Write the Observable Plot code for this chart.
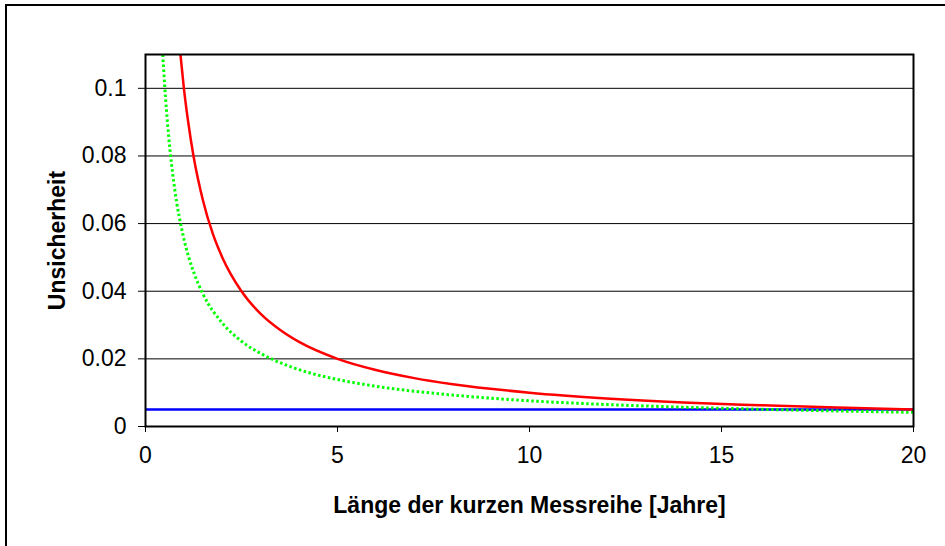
<!DOCTYPE html>
<html>
<head>
<meta charset="utf-8">
<script src="https://cdn.jsdelivr.net/npm/d3@7"></script>
<script src="https://cdn.jsdelivr.net/npm/@observablehq/plot@0.6"></script>
<style>
  html, body { margin: 0; padding: 0; background: #fff; }
  #chart { width: 945px; height: 546px; overflow: hidden; }
</style>
</head>
<body>
<div id="chart"></div>
<script>
// Values
const redX   = [0.91, 1, 1.1, 1.25, 1.5, 1.75, 2, 2.5, 3, 3.5, 4, 5, 6, 7, 8, 10, 12, 14, 16, 18, 20];
const redY   = [0.11, 0.1, 0.091, 0.08, 0.0667, 0.0571, 0.05, 0.04, 0.0333, 0.0286, 0.025, 0.02, 0.0167, 0.0143, 0.0125, 0.01, 0.0083, 0.0071, 0.0063, 0.0056, 0.005];
const greenX = [0.45, 0.5, 0.6, 0.75, 1, 1.25, 1.5, 2, 2.5, 3, 3.26, 4, 5, 6, 8, 10, 12, 14, 16, 18, 20];
const greenY = [0.11, 0.1008, 0.0862, 0.0711, 0.0555, 0.0458, 0.0391, 0.0306, 0.0252, 0.0216, 0.0201, 0.0168, 0.0139, 0.0119, 0.0093, 0.0076, 0.0065, 0.0057, 0.0051, 0.0046, 0.0042];
const blueX  = [0, 20];
const blueY  = [0.005, 0.005];
const yTicks = [0, 0.02, 0.04, 0.06, 0.08, 0.1];
const xTicks = [0, 5, 10, 15, 20];
const xTitle = "Länge der kurzen Messreihe [Jahre]";
const yTitle = "Unsicherheit";

const red = redX.map((x, i) => ({x, y: redY[i]}));
const green = greenX.map((x, i) => ({x, y: greenY[i]}));
const blue = blueX.map((x, i) => ({x, y: blueY[i]}));

const font = "'Liberation Sans', Arial, Helvetica, sans-serif";

const chart = Plot.plot({
  width: 945,
  height: 546,
  marginLeft: 145,
  marginRight: 32,
  marginTop: 54,
  marginBottom: 120,
  style: {fontFamily: font, background: "#fff", color: "#000", overflow: "visible"},
  x: {domain: [0, 20]},
  y: {domain: [0, 0.11]},
  marks: [
    Plot.ruleY(yTicks.filter(d => d > 0), {stroke: "#000", strokeWidth: 1}),
    Plot.line(blue, {x: "x", y: "y", stroke: "#0000ff", strokeWidth: 2.5, clip: true}),
    Plot.line(green, {x: "x", y: "y", stroke: "#00ff00", strokeWidth: 3, strokeDasharray: "2.5,2.5", strokeLinecap: "butt", curve: "monotone-x", clip: true}),
    Plot.line(red, {x: "x", y: "y", stroke: "#ff0000", strokeWidth: 2.5, curve: "monotone-x", clip: true}),
    Plot.frame({stroke: "#000", strokeWidth: 2}),
    Plot.axisY({ticks: yTicks, tickSize: 7, tickPadding: 12, fontSize: 23, tickFormat: d => String(+d.toFixed(2)), label: null, stroke: "#000", strokeWidth: 1}),
    Plot.axisX({ticks: xTicks, tickSize: 6, tickPadding: 14, fontSize: 23, tickFormat: d => String(d), label: null, stroke: "#000", strokeWidth: 1}),
    Plot.text([xTitle], {frameAnchor: "bottom", lineAnchor: "middle", textAnchor: "middle", dy: 79, fontSize: 23, fontWeight: "bold", fill: "#000"}),
    Plot.text([yTitle], {frameAnchor: "left", textAnchor: "middle", lineAnchor: "middle", dx: -88, rotate: -90, fontSize: 23, fontWeight: "bold", fill: "#000"})
  ]
});

// outer chart-area border (Excel style), running off the right and bottom edges
d3.select(chart).insert("rect", ":first-child")
  .attr("x", 6).attr("y", 5).attr("width", 1200).attr("height", 1200)
  .attr("fill", "none").attr("stroke", "#000").attr("stroke-width", 2);

document.getElementById("chart").appendChild(chart);
</script>
</body>
</html>
